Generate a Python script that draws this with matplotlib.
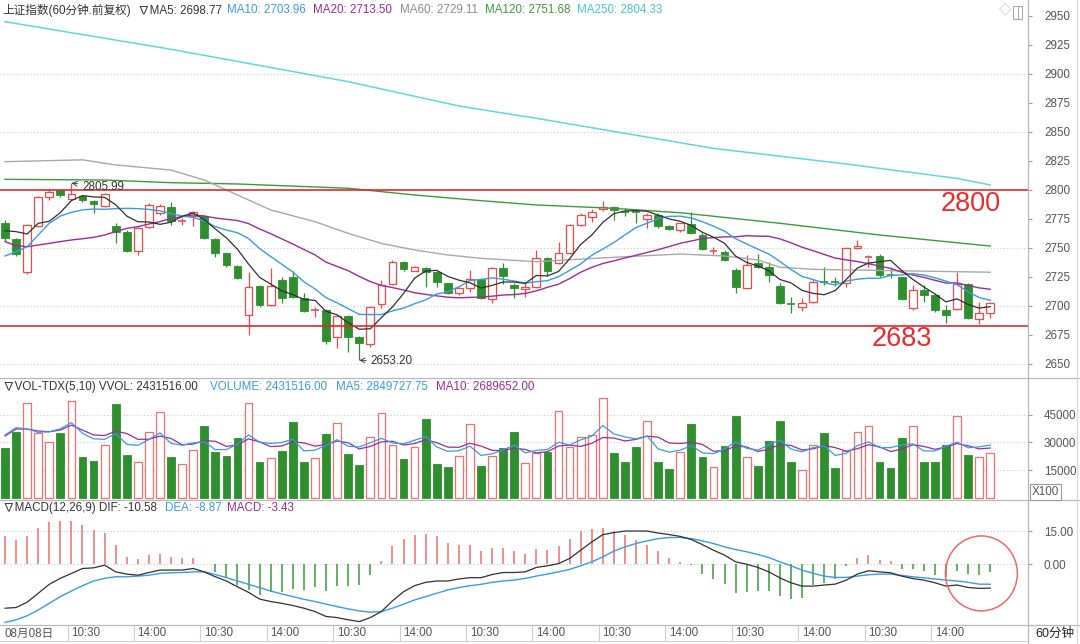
import numpy as np
import pandas as pd
import matplotlib
matplotlib.use('Agg')
import matplotlib.pyplot as plt
from matplotlib.patches import Ellipse, Rectangle
from matplotlib.lines import Line2D
from matplotlib.transforms import blended_transform_factory

plt.rcParams['font.family'] = ['Liberation Sans', 'Noto Sans CJK SC', 'DejaVu Sans']

# ---------------- data ----------------
opens = [2771.3, 2757.5, 2729.6, 2768.9, 2793.7, 2800.0, 2792.0, 2795.1, 2790.8, 2786.5,
         2769.0, 2764.0, 2747.7, 2767.8, 2779.9, 2785.6, 2773.3, 2777.6, 2777.6, 2757.5,
         2745.4, 2734.5, 2692.2, 2717.2, 2700.9, 2722.4, 2725.3, 2706.6, 2696.4, 2696.6,
         2673.6, 2691.4, 2673.6, 2666.9, 2701.7, 2718.9, 2737.6, 2730.4, 2732.5, 2729.6,
         2719.5, 2710.9, 2715.2, 2723.0, 2705.7, 2732.5, 2718.1, 2714.3, 2716.1, 2741.1,
         2736.8, 2745.4, 2769.8, 2777.0, 2783.3, 2785.6, 2781.5, 2781.0, 2774.7, 2778.4,
         2768.9, 2765.5, 2770.7, 2761.2, 2747.5, 2746.8, 2731.0, 2715.2, 2737.3, 2733.9,
         2717.2, 2701.9, 2699.4, 2703.7, 2721.2, 2721.2, 2719.5, 2749.7, 2741.7, 2743.1,
         2726.9, 2724.7, 2698.0, 2713.8, 2709.5, 2696.5, 2697.1, 2719.0, 2688.5, 2693.7]
closes = [2758.3, 2744.8, 2769.8, 2793.7, 2798.6, 2795.7, 2796.6, 2791.4, 2787.9, 2796.6,
          2764.0, 2747.7, 2767.0, 2787.0, 2786.2, 2773.3, 2773.6, 2780.7, 2758.3, 2746.0,
          2735.3, 2724.4, 2716.7, 2700.9, 2717.2, 2706.6, 2707.5, 2696.0, 2696.9, 2670.1,
          2691.4, 2673.6, 2667.8, 2698.9, 2718.1, 2737.6, 2731.6, 2733.9, 2729.6, 2721.0,
          2711.5, 2715.2, 2723.0, 2706.6, 2732.5, 2726.2, 2715.2, 2716.7, 2741.1, 2730.4,
          2745.4, 2769.8, 2778.5, 2781.3, 2785.6, 2782.8, 2781.1, 2780.5, 2778.4, 2768.9,
          2766.1, 2771.3, 2762.6, 2748.8, 2747.9, 2739.6, 2716.1, 2735.3, 2733.9, 2726.7,
          2702.3, 2701.5, 2702.9, 2721.0, 2720.8, 2720.6, 2749.7, 2751.7, 2742.2, 2726.7,
          2726.5, 2705.7, 2713.8, 2709.5, 2696.5, 2692.2, 2719.0, 2689.4, 2693.7, 2702.9]
highs = [2774.0, 2758.3, 2770.5, 2794.8, 2800.9, 2800.6, 2805.99, 2795.7, 2791.4, 2797.1,
         2771.8, 2765.5, 2768.4, 2789.1, 2787.9, 2789.9, 2775.6, 2782.2, 2778.5, 2758.3,
         2746.0, 2735.3, 2729.6, 2718.1, 2732.5, 2725.3, 2730.4, 2711.5, 2699.4, 2697.1,
         2692.2, 2692.2, 2674.1, 2700.0, 2722.4, 2739.6, 2739.0, 2734.6, 2733.4, 2730.4,
         2720.1, 2716.6, 2731.0, 2723.9, 2733.4, 2736.8, 2719.5, 2719.5, 2748.3, 2742.0,
         2755.5, 2770.7, 2779.9, 2783.3, 2790.8, 2786.2, 2784.2, 2781.3, 2779.9, 2779.9,
         2769.8, 2771.8, 2781.3, 2762.6, 2751.1, 2748.3, 2732.5, 2744.0, 2744.8, 2738.2,
         2720.1, 2708.0, 2706.6, 2722.4, 2733.3, 2725.3, 2751.1, 2756.9, 2744.0, 2744.8,
         2733.9, 2725.3, 2718.1, 2718.1, 2710.9, 2700.9, 2729.6, 2720.1, 2703.7, 2703.7]
lows = [2756.0, 2743.1, 2727.6, 2768.3, 2791.4, 2794.3, 2791.4, 2789.9, 2779.9, 2785.6,
        2754.6, 2746.8, 2744.0, 2766.9, 2778.5, 2769.8, 2769.8, 2769.0, 2757.5, 2742.5,
        2733.9, 2723.0, 2675.0, 2699.4, 2700.0, 2702.9, 2706.6, 2695.1, 2690.2, 2667.2,
        2663.5, 2660.6, 2653.2, 2665.0, 2698.0, 2717.8, 2730.4, 2729.9, 2716.0, 2716.6,
        2710.3, 2709.5, 2712.3, 2705.7, 2702.3, 2719.0, 2706.6, 2708.0, 2715.2, 2725.8,
        2736.2, 2744.8, 2768.9, 2772.7, 2782.2, 2774.1, 2777.6, 2771.3, 2766.9, 2766.9,
        2765.5, 2764.1, 2762.0, 2748.3, 2744.8, 2738.8, 2711.5, 2714.3, 2732.5, 2721.0,
        2701.7, 2693.7, 2696.0, 2702.9, 2718.1, 2717.2, 2716.6, 2748.8, 2733.9, 2725.3,
        2723.9, 2705.2, 2696.6, 2703.7, 2695.1, 2685.6, 2696.6, 2688.5, 2684.5, 2689.4]

# volume (x100)
volumes = [26790, 35740, 51040, 34870, 30020, 34870, 52280, 22260, 20100, 28570,
           50500, 23180, 19570, 35740, 46520, 22260, 18160, 25870, 38970, 24960,
           22800, 32180, 51040, 19570, 21400, 25330, 41130, 19570, 21400, 34330,
           40590, 23550, 17790, 33040, 45650, 28570, 20860, 27650, 42420, 18160,
           16550, 22640, 39890, 17410, 22640, 27110, 35410, 19030, 24090, 24960,
           46890, 27650, 33040, 33960, 53740, 24420, 19570, 27650, 41500, 19240,
           15630, 24960, 39720, 22260, 16870, 28190, 44360, 22260, 17410, 30890,
           41660, 19570, 15090, 28570, 35200, 16330, 25330, 35740, 38810, 19570,
           16330, 32500, 38810, 19570, 19570, 28570, 44360, 23180, 22260, 24315]

# MACD(12,26,9)
dif = [-19.6, -19.3, -16.9, -12.9, -8.9, -6.2, -4.0, -1.8, -1.5, -0.3,
       -3.3, -4.3, -4.8, -3.6, -2.5, -2.5, -2.5, -1.8, -3.3, -5.5,
       -7.4, -10.0, -12.5, -15.5, -16.6, -17.4, -18.4, -19.6, -21.1, -23.3,
       -23.8, -24.8, -25.6, -23.8, -21.1, -16.3, -12.2, -9.5, -8.0, -7.4,
       -7.4, -6.5, -5.9, -5.9, -4.5, -3.6, -3.6, -3.3, -1.3, -0.6,
       0.4, 2.7, 6.4, 10.1, 13.4, 14.3, 15.0, 15.0, 15.0, 14.1,
       13.4, 12.6, 11.2, 8.9, 6.4, 4.2, 1.2, 0.1, -1.3, -3.3,
       -6.0, -8.2, -9.7, -9.7, -9.2, -8.8, -7.0, -4.3, -2.8, -3.3,
       -3.7, -5.2, -6.3, -7.0, -8.2, -9.7, -9.2, -10.3, -10.7, -10.58]
dea = [-26.0, -24.8, -23.0, -20.4, -17.4, -14.4, -11.9, -9.5, -7.4, -6.2,
       -5.5, -5.5, -5.2, -4.8, -4.0, -3.7, -3.6, -3.3, -3.3, -4.5,
       -5.9, -7.4, -8.9, -10.4, -11.9, -13.2, -14.4, -15.6, -16.6, -17.8,
       -18.9, -19.9, -20.8, -21.4, -21.1, -19.6, -17.8, -15.9, -14.4, -12.9,
       -11.4, -10.4, -9.5, -8.9, -8.0, -7.4, -7.0, -6.2, -5.2, -4.3,
       -3.3, -2.2, -0.6, 1.2, 3.4, 6.0, 7.9, 9.4, 10.6, 11.6,
       12.1, 12.1, 11.6, 10.6, 9.4, 7.9, 6.7, 5.7, 4.5, 3.1,
       1.2, -0.6, -2.5, -4.0, -5.2, -5.8, -5.8, -5.2, -4.6, -4.3,
       -4.3, -4.9, -5.5, -6.0, -6.5, -7.0, -7.4, -8.0, -8.8, -8.87]
macd_hist = [12.8, 10.8, 12.8, 16.5, 19.0, 19.7, 19.3, 17.8, 15.3, 14.2,
             8.9, 3.4, 2.4, 4.2, 4.6, 3.4, 2.7, 2.7, 0.4, -3.3,
             -5.5, -9.2, -11.4, -13.7, -12.2, -12.2, -11.0, -11.4, -9.9, -11.9,
             -9.5, -9.5, -9.2, -4.5, 1.5, 8.2, 11.6, 13.4, 13.8, 12.8,
             9.8, 8.6, 8.6, 5.9, 7.6, 7.6, 5.9, 4.5, 6.9, 6.7,
             8.3, 11.6, 14.9, 16.1, 16.5, 15.0, 13.4, 11.2, 8.9, 6.0,
             2.7, 0.9, -0.3, -4.3, -6.5, -8.9, -12.6, -12.2, -11.9, -11.8,
             -14.2, -15.5, -15.2, -9.2, -8.5, -6.3, -0.6, 2.7, 4.2, 2.2,
             1.5, -1.8, -2.1, -3.0, -4.8, -5.5, -3.0, -4.3, -4.5, -3.43]

# first values of the short moving averages (history before the window)
ma5_head = [2764.9, 2764.1, 2762.1, 2771.3]
ma10_head = [2743.1, 2746.8, 2751.1, 2761.2, 2771.3, 2777.6, 2780.7, 2782.8, 2783.6]
ma20_head = [2755.5, 2752.0, 2751.1, 2752.6, 2754.0, 2755.5, 2756.9, 2758.0, 2759.2, 2761.2,
             2764.1, 2766.9, 2768.4, 2770.7, 2772.7, 2775.6, 2777.0, 2778.5, 2777.6]
vma5_head = [33960, 37910, 37200, 35410]
vma10_head = [33400, 37200, 37200, 36100, 35700, 36600, 39300, 36600, 34000]

# long moving averages, read at sampled bars
ma60_bars = [0, 7, 10, 15, 18, 21, 24, 28, 31, 34, 37, 40, 43, 48, 55, 61, 65, 68, 70, 73, 89]
ma60_vals = [2824.4, 2826.0, 2821.6, 2817.2, 2808.6, 2795.7, 2782.8, 2772.7, 2762.6, 2754.0,
             2748.3, 2744.0, 2741.1, 2738.2, 2742.0, 2744.8, 2743.1, 2739.7, 2733.4, 2731.6, 2729.11]
ma120_bars = [0, 9, 15, 21, 31, 37, 43, 48, 55, 61, 70, 79, 89]
ma120_vals = [2809.2, 2808.6, 2806.3, 2805.2, 2801.5, 2795.7, 2790.8, 2787.1, 2784.2, 2780.4,
              2771.3, 2761.2, 2751.68]
ma250_bars = [0, 15, 31, 41, 48, 64, 76, 86, 89]
ma250_vals = [2945.1, 2921.3, 2893.4, 2872.4, 2861.8, 2835.9, 2822.4, 2810.0, 2804.33]

price_ticks = [2650, 2675, 2700, 2725, 2750, 2775, 2800, 2825, 2850, 2875, 2900, 2925, 2950]
price_grid = [2650, 2700, 2750, 2850, 2900]
vol_ticks = [15000, 30000, 45000]
macd_ticks = [0, 15]
levels = [2800, 2683]
time_labels = ['08月08日', '10:30', '14:00', '10:30', '14:00', '10:30', '14:00', '10:30',
               '14:00', '10:30', '14:00', '10:30', '14:00', '10:30', '14:00']
time_label_bars = [0, 6, 12, 18, 24, 30, 36, 42, 48, 54, 60, 66, 72, 78, 84]

# ---------------- styles ----------------
RED = '#ec4a4a'
VRED = '#f07070'
GREEN = '#2f8f2f'
C_MA5 = '#303030'
C_MA10 = '#3a9be0'
C_MA20 = '#9a2c9a'
C_MA60 = '#a8a8a8'
C_MA120 = '#3b9b3b'
C_MA250 = '#5fd8d8'
LINE_RED = '#e02a2a'
TXT = '#333333'
AX_TXT = '#555555'
SEP = '#b8b8b8'

W, H = 1080, 644
fig = plt.figure(figsize=(W / 100, H / 100), dpi=100)
fig.patch.set_facecolor('white')


def rect(l, t, r, b):
    return [l / W, 1 - b / H, (r - l) / W, (b - t) / H]


ax_k = fig.add_axes(rect(0, 0, 1028, 378))
ax_v = fig.add_axes(rect(0, 378, 1028, 500), sharex=ax_k)
ax_m = fig.add_axes(rect(0, 500, 1028, 625), sharex=ax_k)

n = len(closes)
xs = np.arange(n)
o = np.array(opens)
c = np.array(closes)
h = np.array(highs)
l = np.array(lows)
up = c >= o
BW = 0.7

for ax in (ax_k, ax_v, ax_m):
    for s in ax.spines.values():
        s.set_visible(False)
    ax.set_facecolor('white')
    ax.tick_params(axis='x', bottom=False, labelbottom=False)
    ax.yaxis.tick_right()
    ax.tick_params(axis='y', direction='out', length=3, width=0.8, colors='#999999',
                   labelcolor=AX_TXT, labelsize=8.4, pad=8.5)

ax_k.set_xlim(-0.4517, 92.41)

# ---- main candle panel ----
ax_k.set_ylim(2637.93, 2963.79)
ax_k.set_yticks(price_ticks)
ax_k.set_yticklabels([str(t) for t in price_ticks])
for g in price_grid:
    ax_k.axhline(g, color='#c8c8c8', lw=0.8, ls=(0, (1, 2)), zorder=0)

for i in range(n):
    top, bot = max(o[i], c[i]), min(o[i], c[i])
    if up[i]:
        col = RED
        ax_k.vlines(i, top, h[i], color=col, lw=0.9, zorder=2)
        ax_k.vlines(i, l[i], bot, color=col, lw=0.9, zorder=2)
    else:
        col = GREEN
        ax_k.vlines(i, l[i], h[i], color=col, lw=0.9, zorder=2)
    if top - bot < 0.8:
        ax_k.hlines((top + bot) / 2, i - BW / 2, i + BW / 2, color=col, lw=1.2, zorder=3)
xu = xs[up & (np.abs(c - o) >= 0.8)]
ax_k.bar(xu, (c - o)[xu], bottom=o[xu], width=BW, facecolor='white', edgecolor=RED,
         lw=0.9, zorder=3)
xd = xs[(~up) & (np.abs(c - o) >= 0.8)]
ax_k.bar(xd, (o - c)[xd], bottom=c[xd], width=BW, facecolor=GREEN, edgecolor=GREEN,
         lw=0.6, zorder=3)

cs = pd.Series(closes)


def ma_with_head(series, window, head):
    m = series.rolling(window).mean().to_numpy()
    m[:len(head)] = head
    return m


ma5 = ma_with_head(cs, 5, ma5_head)
ma10 = ma_with_head(cs, 10, ma10_head)
ma20 = ma_with_head(cs, 20, ma20_head)

ax_k.plot(ma250_bars, ma250_vals, color=C_MA250, lw=1.1, zorder=4)
ax_k.plot(ma120_bars, ma120_vals, color=C_MA120, lw=1.0, zorder=4)
ax_k.plot(ma60_bars, ma60_vals, color=C_MA60, lw=1.0, zorder=4)
ax_k.plot(xs, ma20, color=C_MA20, lw=1.0, zorder=5)
ax_k.plot(xs, ma10, color=C_MA10, lw=1.0, zorder=5)
ax_k.plot(xs, ma5, color=C_MA5, lw=0.9, zorder=6)

for lv in levels:
    ax_k.axhline(lv, color=LINE_RED, lw=1.2, zorder=7)
ax_k.text(84.55, 2788.0, '2800', color='#ea2a2e', fontsize=19.5, ha='left', va='center', zorder=8)
ax_k.text(78.3, 2671.6, '2683', color='#ea2a2e', fontsize=19.5, ha='left', va='center', zorder=8)

imax = int(np.argmax(h))
imin = int(np.argmin(l))
ax_k.annotate(f'{h[imax]:.2f}', xy=(imax, h[imax]), xytext=(imax + 0.95, h[imax] - 3.2),
              fontsize=8.4, color=TXT, ha='left', va='center', zorder=9,
              arrowprops=dict(arrowstyle='->', color='#444444', lw=0.7, shrinkA=1, shrinkB=0))
ax_k.annotate(f'{l[imin]:.2f}', xy=(imin, l[imin]), xytext=(imin + 1.0, l[imin] - 1.0),
              fontsize=8.4, color=TXT, ha='left', va='center', zorder=9,
              arrowprops=dict(arrowstyle='->', color='#444444', lw=0.7, shrinkA=1, shrinkB=0))

# ---- volume panel ----
v = np.array(volumes, dtype=float)
ax_v.set_ylim(-1078, 64680)
ax_v.set_yticks(vol_ticks)
ax_v.set_yticklabels([str(t) for t in vol_ticks])
for g in vol_ticks:
    ax_v.axhline(g, color='#c8c8c8', lw=0.8, ls=(0, (1, 2)), zorder=0)
ax_v.bar(xs[up], v[up], width=BW, facecolor='white', edgecolor=VRED, lw=0.9, zorder=2)
ax_v.bar(xs[~up], v[~up], width=BW, facecolor=GREEN, edgecolor=GREEN, lw=0.6, zorder=2)
vs = pd.Series(volumes, dtype=float)
vma5 = ma_with_head(vs, 5, vma5_head)
vma10 = ma_with_head(vs, 10, vma10_head)
ax_v.plot(xs, vma10, color=C_MA20, lw=0.9, zorder=3)
ax_v.plot(xs, vma5, color=C_MA10, lw=0.9, zorder=3)

# ---- MACD panel ----
ax_m.set_ylim(-27.13, 28.92)
ax_m.set_yticks(macd_ticks)
ax_m.set_yticklabels([f'{t:.2f}' for t in macd_ticks])
for g in macd_ticks:
    ax_m.axhline(g, color='#c8c8c8', lw=0.8, ls=(0, (1, 2)), zorder=0)
hist = np.array(macd_hist)
ax_m.vlines(xs, 0, hist, colors=[('#e87070' if hv > 0 else '#3a9a3a') for hv in hist],
            lw=1.1, zorder=2)
ax_m.plot(xs, dea, color=C_MA10, lw=1.0, zorder=3)
ax_m.plot(xs, dif, color=C_MA5, lw=0.9, zorder=4)
ax_m.add_patch(Ellipse((88.2, -4.0), width=6.5, height=33.6, fill=False,
                       edgecolor='#e86a6a', lw=1.1, zorder=5, clip_on=False))

# ---- time axis ----
tr = blended_transform_factory(ax_m.transData, fig.transFigure)
for b, lab in zip(time_label_bars, time_labels):
    ax_m.text(b - 0.02, 1 - 633.5 / H, lab, transform=tr, fontsize=8.4, color=AX_TXT,
              ha='left', va='center', clip_on=False)
    if b > 0:
        fig.add_artist(Line2D([b - 0.35, b - 0.35], [1 - 626 / H, 1 - 641 / H], transform=tr,
                              color='#cfcfcf', lw=0.8))

# ---- frame lines ----
for yy in (378, 500, 625):
    fig.add_artist(Line2D([0, 1], [1 - yy / H, 1 - yy / H], transform=fig.transFigure,
                          color=SEP, lw=0.9))
fig.add_artist(Line2D([0, 1028 / W], [1 - 641 / H, 1 - 641 / H], transform=fig.transFigure,
                      color='#d0d0d0', lw=0.8))
fig.add_artist(Line2D([1028 / W, 1028 / W], [0, 1], transform=fig.transFigure,
                      color=SEP, lw=0.9))
fig.add_artist(Line2D([1077 / W, 1077 / W], [0, 1], transform=fig.transFigure,
                      color='#d8d8d8', lw=0.8))

# ---- headers ----
def ftext(xp, yp, s, col, size=8.4, **kw):
    fig.text(xp / W, 1 - yp / H, s, color=col, fontsize=size, ha='left', va='center', **kw)


ftext(2, 10, '上证指数(60分钟.前复权)', TXT)
ftext(138, 10, '∇MA5: 2698.77', TXT)
ftext(227, 10, 'MA10: 2703.96', C_MA10)
ftext(313, 10, 'MA20: 2713.50', C_MA20)
ftext(400, 10, 'MA60: 2729.11', '#8c8c8c')
ftext(485, 10, 'MA120: 2751.68', C_MA120)
ftext(577, 10, 'MA250: 2804.33', '#45c8c8')

ftext(3, 387, '∇VOL-TDX(5,10) VVOL: 2431516.00', TXT)
ftext(210, 387, 'VOLUME: 2431516.00', C_MA10)
ftext(336, 387, 'MA5: 2849727.75', C_MA10)
ftext(436, 387, 'MA10: 2689652.00', C_MA20)

ftext(3, 508, '∇MACD(12,26,9) DIF: -10.58', TXT)
ftext(165, 508, 'DEA: -8.87', C_MA10)
ftext(227, 508, 'MACD: -3.43', C_MA20)

ftext(999, 12, '◇', '#aaaaaa', size=9)
fig.add_artist(Rectangle((1013 / W, 1 - 19 / H), 9 / W, 13 / H, transform=fig.transFigure,
                         fill=False, edgecolor='#aaaaaa', lw=0.8))
fig.add_artist(Line2D([1018 / W, 1018 / W], [1 - 19 / H, 1 - 6 / H], transform=fig.transFigure,
                      color='#aaaaaa', lw=0.8))

fig.text(1032 / W, 1 - 492 / H, 'X100', color=AX_TXT, fontsize=8.4, ha='left', va='center',
         bbox=dict(boxstyle='square,pad=0.15', facecolor='white', edgecolor='#999999', lw=0.8))
ftext(1035, 634, '60分钟', '#222222', size=9)

fig.savefig('out.png', dpi=100, facecolor='white')
